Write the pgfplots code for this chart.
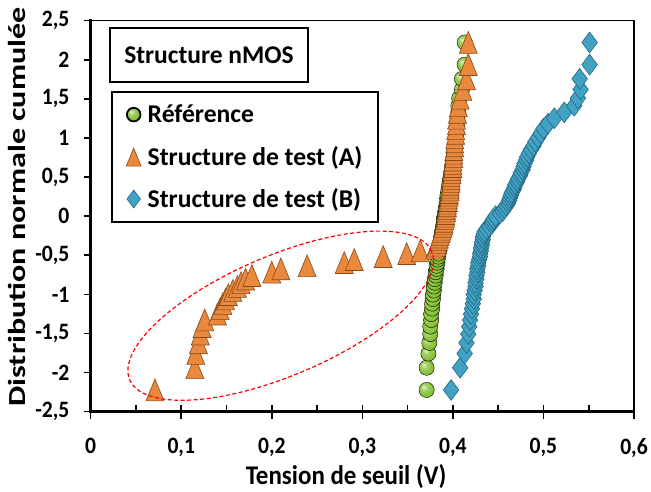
\documentclass[border=0pt]{standalone}
\usepackage{pgfplots}
\pgfplotsset{compat=1.18}
\usepackage{pgfplotstable}
\usetikzlibrary{shadings}
\usepackage{fontspec}
\setmainfont{Carlito}
\definecolor{refgreen}{RGB}{132,192,50}
\definecolor{orfill}{RGB}{232,137,62}
\definecolor{ordraw}{RGB}{140,74,26}
\definecolor{bfill}{RGB}{66,162,196}
\definecolor{bdraw}{RGB}{36,104,132}
\makeatletter
\pgfdeclareradialshading[tikz@ball]{ball}{\pgfqpoint{-10bp}{10bp}}{color(0bp)=(tikz@ball!25!white); color(12bp)=(tikz@ball!80!white); color(25bp)=(tikz@ball); color(40bp)=(tikz@ball!80!black); color(50bp)=(tikz@ball!65!black)}
\makeatother
\pgfplotsset{
  legR/.style={legend image code/.code={\path[draw=none,fill=none] (0.3cm,0cm) +(-8pt,0) -- +(12pt,0); \draw[##1, mark size=6.8pt] plot coordinates {(0.3cm,0cm)};}},
  legA/.style={legend image code/.code={\path[draw=none,fill=none] (0.3cm,0cm) +(-8pt,0) -- +(12pt,0); \draw[##1, mark size=8.6pt] plot coordinates {(0.3cm,0cm)};}},
  legB/.style={legend image code/.code={\path[draw=none,fill=none] (0.3cm,0cm) +(-8pt,0) -- +(12pt,0); \draw[##1, mark size=9pt] plot coordinates {(0.3cm,0cm)};}},
}

\pgfplotstableread{
x y
0.371 -2.222
0.371 -1.938
0.373 -1.756
0.374 -1.620
0.375 -1.508
0.375 -1.412
0.376 -1.328
0.376 -1.252
0.377 -1.183
0.377 -1.119
0.378 -1.059
0.378 -1.003
0.379 -0.950
0.379 -0.899
0.380 -0.851
0.380 -0.805
0.381 -0.760
0.381 -0.717
0.382 -0.674
0.382 -0.634
0.383 -0.594
0.383 -0.555
0.384 -0.517
0.384 -0.479
0.385 -0.443
0.385 -0.407
0.386 -0.371
0.386 -0.336
0.387 -0.301
0.387 -0.267
0.388 -0.233
0.388 -0.199
0.389 -0.166
0.389 -0.132
0.390 -0.099
0.390 -0.066
0.390 -0.033
0.391 0
0.391 0.033
0.392 0.066
0.392 0.099
0.393 0.132
0.393 0.166
0.393 0.199
0.394 0.233
0.394 0.267
0.395 0.301
0.395 0.336
0.396 0.371
0.396 0.407
0.397 0.443
0.397 0.479
0.398 0.517
0.398 0.555
0.399 0.594
0.399 0.634
0.400 0.674
0.400 0.717
0.401 0.760
0.401 0.805
0.402 0.851
0.402 0.899
0.403 0.950
0.403 1.003
0.404 1.059
0.404 1.119
0.405 1.183
0.405 1.252
0.406 1.328
0.406 1.412
0.407 1.508
0.410 1.620
0.410 1.756
0.413 1.938
0.413 2.222
}\reftab

\pgfplotstableread{
x y
0.071 -2.222
0.115 -1.938
0.116 -1.756
0.119 -1.620
0.121 -1.508
0.123 -1.412
0.126 -1.328
0.140 -1.252
0.143 -1.183
0.146 -1.119
0.149 -1.059
0.152 -1.003
0.157 -0.950
0.162 -0.899
0.166 -0.851
0.171 -0.805
0.178 -0.760
0.200 -0.717
0.210 -0.674
0.239 -0.634
0.280 -0.594
0.291 -0.555
0.323 -0.517
0.349 -0.479
0.364 -0.443
0.380 -0.407
0.382 -0.371
0.383 -0.336
0.384 -0.301
0.385 -0.267
0.386 -0.233
0.387 -0.199
0.388 -0.166
0.389 -0.132
0.390 -0.099
0.390 -0.066
0.391 -0.033
0.392 0
0.392 0.033
0.393 0.066
0.393 0.099
0.394 0.132
0.394 0.166
0.395 0.199
0.395 0.233
0.396 0.267
0.396 0.301
0.397 0.336
0.397 0.371
0.397 0.407
0.398 0.443
0.398 0.479
0.398 0.517
0.399 0.555
0.399 0.594
0.400 0.634
0.400 0.674
0.400 0.717
0.401 0.760
0.401 0.805
0.401 0.851
0.402 0.899
0.402 0.950
0.402 1.003
0.403 1.059
0.403 1.119
0.404 1.183
0.404 1.252
0.405 1.328
0.406 1.412
0.408 1.508
0.411 1.620
0.415 1.756
0.417 1.938
0.417 2.222
}\atab

\pgfplotstableread{
x y
0.398 -2.222
0.408 -1.938
0.413 -1.756
0.415 -1.620
0.417 -1.508
0.418 -1.412
0.419 -1.328
0.420 -1.252
0.421 -1.183
0.422 -1.119
0.423 -1.059
0.423 -1.003
0.424 -0.950
0.425 -0.899
0.425 -0.851
0.426 -0.805
0.426 -0.760
0.427 -0.717
0.427 -0.674
0.428 -0.634
0.428 -0.594
0.429 -0.555
0.430 -0.517
0.430 -0.479
0.431 -0.443
0.431 -0.407
0.432 -0.371
0.432 -0.336
0.433 -0.301
0.433 -0.267
0.434 -0.233
0.435 -0.199
0.437 -0.166
0.440 -0.132
0.443 -0.099
0.444 -0.066
0.445 -0.033
0.447 0
0.452 0.033
0.455 0.066
0.457 0.099
0.459 0.132
0.461 0.166
0.462 0.199
0.463 0.233
0.464 0.267
0.465 0.301
0.467 0.336
0.468 0.371
0.469 0.407
0.471 0.443
0.472 0.479
0.474 0.517
0.475 0.555
0.477 0.594
0.478 0.634
0.479 0.674
0.481 0.717
0.482 0.760
0.484 0.805
0.486 0.851
0.489 0.899
0.491 0.950
0.494 1.003
0.497 1.059
0.500 1.119
0.505 1.183
0.512 1.252
0.523 1.328
0.534 1.412
0.538 1.508
0.541 1.620
0.540 1.756
0.551 1.938
0.551 2.222
}\btab

\begin{document}
\begin{tikzpicture}
\useasboundingbox (-90.7pt,-80.3pt) rectangle (560.3pt,411.7pt);
\begin{axis}[
  at={(0,0)}, anchor=south west,
  scale only axis, width=543.3pt, height=391pt,
  xmin=0, xmax=0.6, ymin=-2.5, ymax=2.5,
  axis line style={line width=1.2pt},
  xtick={0,0.1,0.2,0.3,0.4,0.5,0.6},
  xticklabels={0,{0,1},{0,2},{0,3},{0,4},{0,5},{0,6}},
  ytick={-2.5,-2,-1.5,-1,-0.5,0,0.5,1,1.5,2,2.5},
  yticklabels={{-2,5},{-2},{-1,5},{-1},{-0,5},{0},{0,5},{1},{1,5},{2},{2,5}},
  xtick pos=bottom, ytick pos=left,
  tick align=outside, major tick length=7pt,
  major tick style={line width=1.6pt, black},
  tick label style={font=\fontsize{23.5}{25}\selectfont\bfseries, xscale=0.92},
  xticklabel style={yshift=-16pt},
  yticklabel style={xshift=-12pt},
  xlabel={Tension de seuil (V)},
  ylabel={Distribution normale cumulée},
  xlabel style={font=\fontsize{27}{30}\selectfont\bfseries, xscale=0.925, at={(rel axis cs:0.470,-0.167)}, anchor=center},
  ylabel style={font=\fontsize{24.5}{27}\selectfont\bfseries, xscale=1.31, at={(rel axis cs:-0.136,0.5235)}, anchor=center},
  legend style={at={(0.037,0.82)}, anchor=north west, draw=black, line width=1.8pt,
    font=\fontsize{25.6}{28}\selectfont\bfseries, inner xsep=14pt, inner ysep=11pt, row sep=18pt},
  legend cell align=left,
  clip=false,
]
\addplot[only marks, mark=ball, mark size=7.6pt, ball color=refgreen, legR] table[x=x,y=y]{\reftab};
\addlegendentry{Référence}
\addplot[only marks, mark=triangle*, mark size=10.4pt,
  mark options={line width=0.6pt, draw=ordraw, fill=orfill, yshift=-3.6pt, yscale=1.4}, legA] table[x=x,y=y]{\atab};
\addlegendentry{Structure de test (A)}
\addplot[only marks, mark=diamond*, mark size=10.4pt,
  mark options={line width=0.6pt, draw=bdraw, fill=bfill}, legB] table[x=x,y=y]{\btab};
\addlegendentry{Structure de test (B)}
\end{axis}
% thick left and bottom axis lines
\draw[line width=2.6pt, line cap=rect] (0,391pt) -- (0,0) -- (543.3pt,0);
% inside tick parts on x axis
\foreach \i in {1,...,11} \draw[line width=1.6pt] ({\i*45.275pt},0) -- ++(0,7pt);
% ellipse
\begin{scope}[shift={(190pt,96pt)}, rotate=23]
\draw[red, line width=1.2pt, dash pattern=on 4pt off 2.5pt] (0,0) ellipse [x radius=164pt, y radius=60pt];
\end{scope}
% title box
\node[draw=black, line width=1.8pt, minimum width=198pt, minimum height=54pt, inner sep=0pt,
  font=\fontsize{25.5}{28}\selectfont\bfseries] at (118.3pt,356.7pt) {Structure nMOS};
\end{tikzpicture}
\end{document}
